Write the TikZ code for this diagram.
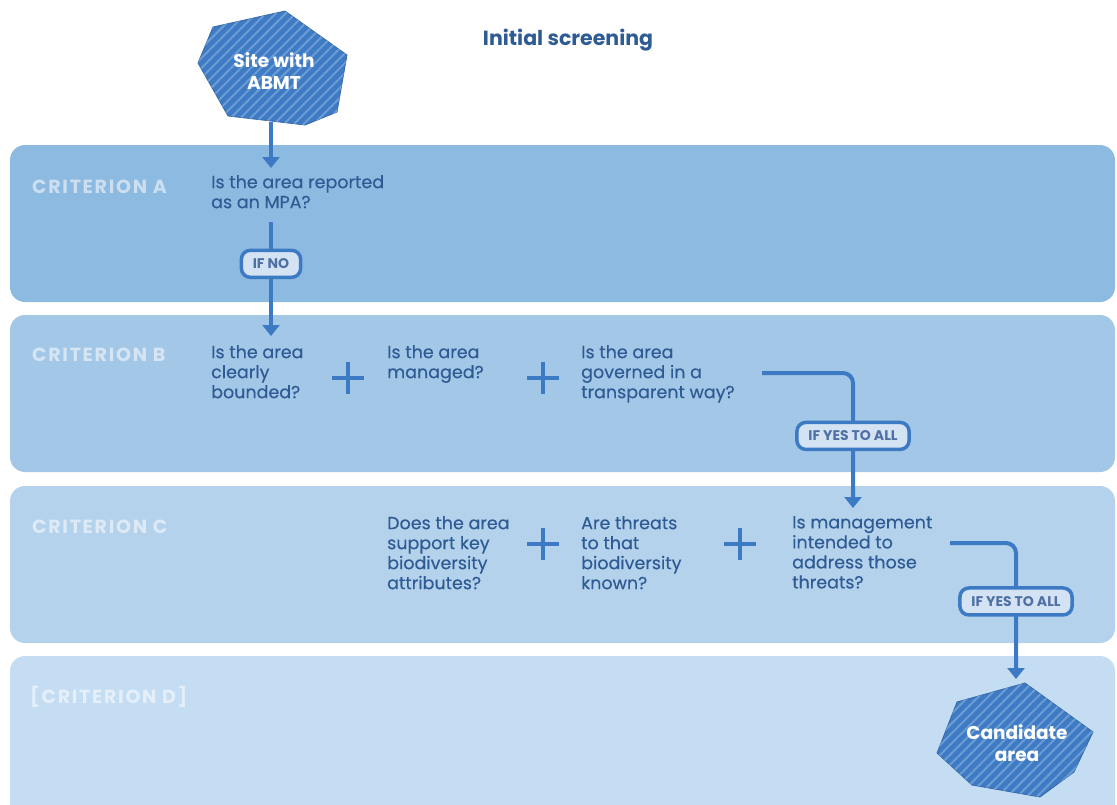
\documentclass[tikz,border=0pt]{standalone}
\usepackage{fontspec}
\setmainfont{Poppins}
\newfontfamily\questionfont{Poppins}[FakeBold=0.35]
\newfontfamily\critfont{Poppins}[LetterSpace=9]
\usetikzlibrary{arrows.meta,patterns.meta}

\definecolor{bandA}{HTML}{8DBAE0}
\definecolor{bandB}{HTML}{A3C7E7}
\definecolor{bandC}{HTML}{B4D2EC}
\definecolor{bandD}{HTML}{C5DDF2}
\definecolor{flow}{HTML}{3D7AC4}
\definecolor{qtext}{HTML}{2F5B94}
\definecolor{hexfill}{HTML}{3E7BC4}
\definecolor{hexstripe}{HTML}{6C9CD4}
\definecolor{tagfill}{HTML}{D4E3F3}
\definecolor{tagtext}{HTML}{4F70A4}

\tikzset{
  band/.style={fill=#1, rounded corners=15pt},
  crit/.style={anchor=west, text=white, text opacity=0.55, inner sep=0pt,
    font=\critfont\bfseries\fontsize{19}{22}\selectfont},
  question/.style={anchor=north west, align=left, text=qtext, inner sep=0pt,
    font=\questionfont\fontsize{17.5}{20}\selectfont},
  flowline/.style={draw=flow, line width=4pt},
  flowarrow/.style={flowline, -{Triangle[width=17pt,length=11pt]}},
  tag/.style={draw=flow, line width=3.5pt, fill=tagfill, rounded corners=9pt,
    text=tagtext, font=\bfseries\fontsize{14}{16}\selectfont,
    minimum height=27pt, inner xsep=11.5pt, inner ysep=2pt},
  plusline/.style={draw=flow, line width=4.5pt},
  hexshape/.style={fill=hexfill, draw=hexfill!85!black, line width=0.8pt},
  hexstripes/.style={pattern={Lines[angle=45,distance=7pt,line width=2pt]},
    pattern color=hexstripe},
  hextext/.style={align=center, text=white, font=\bfseries\fontsize{18.5}{21.5}\selectfont},
  title/.style={text=qtext, font=\bfseries\fontsize{20.5}{24}\selectfont},
}

\begin{document}
\begin{tikzpicture}[x=1pt,y=-1pt]
\clip (0,0) rectangle (1117,804);

% criterion bands
\fill[band=bandA] (10,145) rectangle (1115,302);
\fill[band=bandB] (10,315) rectangle (1115,472);
\fill[band=bandC] (10,486) rectangle (1115,643);
\fill[band=bandD] (10,656) rectangle (1115,840);

\node[crit] (critA) at (32,187) {CRITERION A};
\node[crit] (critB) at (32,355) {CRITERION B};
\node[crit] (critC) at (32,527) {CRITERION C};
\node[crit] (critD) at (30,697) {[CRITERION D]};

% start and end shapes
\path[hexshape] (213,27) -- (285,11) -- (347,55) -- (337,112) -- (305,125) -- (228,116) -- (198,63) -- cycle;
\path[hexstripes] (213,27) -- (285,11) -- (347,55) -- (337,112) -- (305,125) -- (228,116) -- (198,63) -- cycle;
\node[hextext] (site) at (274,71) {Site with\\ABMT};
\coordinate (siteb) at (271,122);

\path[hexshape] (1025,683) -- (1093,732) -- (1074,772) -- (1040,797) -- (972,785) -- (937,753) -- (957,702) -- cycle;
\path[hexstripes] (1025,683) -- (1093,732) -- (1074,772) -- (1040,797) -- (972,785) -- (937,753) -- (957,702) -- cycle;
\node[hextext] (cand) at (1017,743) {Candidate\\area};
\coordinate (candtop) at (1016,679);

\node[title] (screen) at (568,40) {Initial screening};

% questions
\node[question] (qA) at (211,175) {Is the area reported\\as an MPA?};
\node[question] (qB1) at (211,345) {Is the area\\clearly\\bounded?};
\node[question] (qB2) at (387,345) {Is the area\\managed?};
\node[question] (qB3) at (581,345) {Is the area\\governed in a\\transparent way?};
\node[question] (qC1) at (387,516) {Does the area\\support key\\biodiversity\\attributes?};
\node[question] (qC2) at (581,516) {Are threats\\to that\\biodiversity\\known?};
\node[question] (qC3) at (792,516) {Is management\\intended to\\address those\\threats?};

% plus signs
\foreach \px/\py in {348/378, 543/378, 543/544, 740/544}
  \draw[plusline] (\px-16,\py) -- (\px+16,\py) (\px,\py-16) -- (\px,\py+16);

% connectors
\coordinate (aout) at (271,222);
\coordinate (bout) at (762,373);
\coordinate (bturn) at (853,373);
\coordinate (cout) at (950,543);
\coordinate (cturn) at (1016,543);

\draw[flowarrow, shorten >=7pt] (siteb) -- (siteb |- qA.north);
\draw[flowarrow, shorten >=9pt] (aout) -- node[tag, pos=0.34] (ifno) {IF NO} (aout |- qB1.north);
\draw[flowarrow, rounded corners=10pt, shorten >=8pt] (bout) -- (bturn) -- node[tag, pos=0.44] (ifyesB) {IF YES TO ALL} (bturn |- qC3.north);
\draw[flowarrow, rounded corners=10pt] (cout) -- (cturn) -- node[tag, pos=0.43] (ifyesC) {IF YES TO ALL} (candtop);
\end{tikzpicture}
\end{document}
